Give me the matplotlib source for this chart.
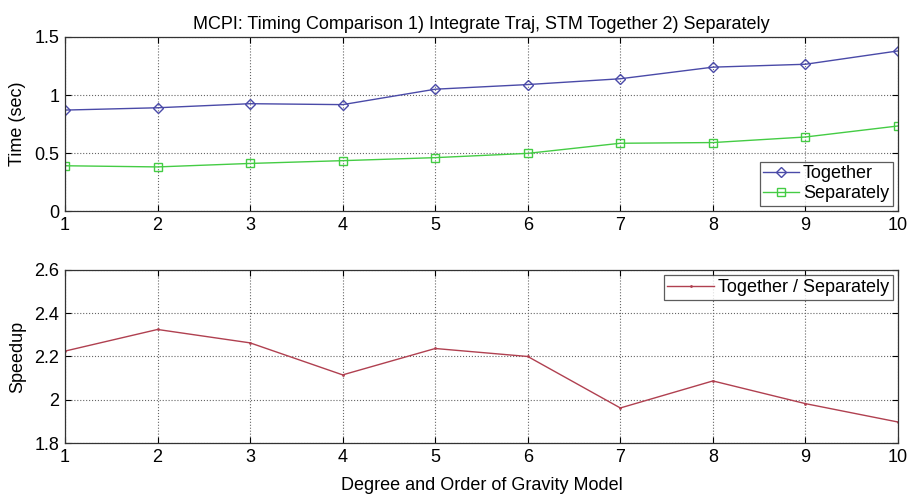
import matplotlib.pyplot as plt

degree = [1, 2, 3, 4, 5, 6, 7, 8, 9, 10]
together = [0.87, 0.89, 0.925, 0.917, 1.05, 1.09, 1.14, 1.24, 1.265, 1.38]
separately = [0.39, 0.38, 0.41, 0.434, 0.46, 0.497, 0.584, 0.59, 0.638, 0.733]
speedup = [2.225, 2.325, 2.263, 2.115, 2.237, 2.2, 1.962, 2.087, 1.982, 1.897]

plt.rcParams['font.family'] = ['Liberation Sans', 'DejaVu Sans']
plt.rcParams['font.size'] = 13

fig = plt.figure(figsize=(9.13, 4.97), dpi=100)
ax1 = fig.add_axes([65/913, 1-211/497, 833/913, 174/497])
ax2 = fig.add_axes([65/913, 1-443/497, 833/913, 173/497])


def matlab_style(ax):
    ax.grid(True, linestyle=':', color='#666666', linewidth=0.8)
    ax.tick_params(direction='in', top=True, right=True, length=4, pad=4)
    for s in ax.spines.values():
        s.set_linewidth(0.9)
        s.set_color('#333333')
    ax.set_xlim(1, 10)
    ax.set_xticks(degree)


ax1.plot(degree, together, color='#4a4aa8', marker='D', mfc='none', ms=5.5, lw=1, label='Together')
ax1.plot(degree, separately, color='#44cc44', marker='s', mfc='none', ms=6, lw=1, label='Separately')
matlab_style(ax1)
ax1.set_ylim(0, 1.5)
ax1.set_yticks([0, 0.5, 1, 1.5])
ax1.set_yticklabels(['0', '0.5', '1', '1.5'])
ax1.set_ylabel('Time (sec)', labelpad=6)
ax1.set_title('MCPI: Timing Comparison 1) Integrate Traj, STM Together 2) Separately', fontsize=13, pad=6)
leg = ax1.legend(loc='lower right', fancybox=False, edgecolor='#333333', borderaxespad=0.3,
                 handlelength=2.0, handletextpad=0.2, borderpad=0.2, labelspacing=0.15)
leg.get_frame().set_linewidth(0.9)

ax2.plot(degree, speedup, color='#b04050', marker='.', ms=2, lw=1, label='Together / Separately')
matlab_style(ax2)
ax2.set_ylim(1.8, 2.6)
ax2.set_yticks([1.8, 2.0, 2.2, 2.4, 2.6])
ax2.set_yticklabels(['1.8', '2', '2.2', '2.4', '2.6'])
ax2.set_ylabel('Speedup', labelpad=6)
ax2.set_xlabel('Degree and Order of Gravity Model', labelpad=8)
leg2 = ax2.legend(loc='upper right', fancybox=False, edgecolor='#333333', borderaxespad=0.3,
                  handlelength=2.6, handletextpad=0.2, borderpad=0.2)
leg2.get_frame().set_linewidth(0.9)

fig.savefig('out.png', dpi=100)
